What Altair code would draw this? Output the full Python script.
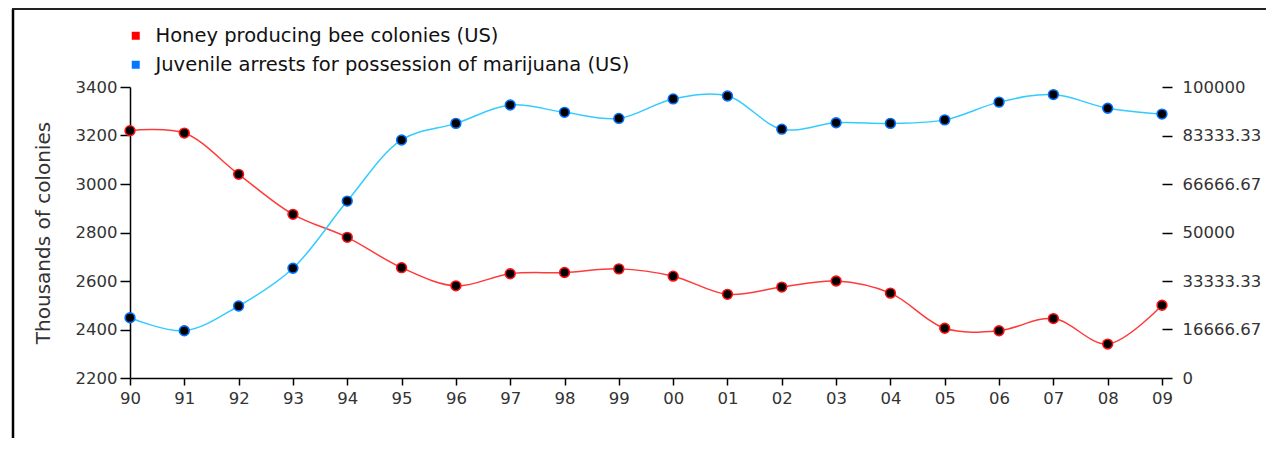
import altair as alt
import pandas as pd

years = ["90", "91", "92", "93", "94", "95", "96", "97", "98", "99",
         "00", "01", "02", "03", "04", "05", "06", "07", "08", "09"]
bee_colonies = [3220, 3210, 3040, 2875, 2780, 2655, 2580, 2630, 2635, 2650,
                2620, 2545, 2575, 2600, 2550, 2405, 2395, 2445, 2340, 2500]
juvenile_arrests = [20700, 16250, 24750, 37700, 60800, 81800, 87500, 93800, 91300, 89200,
                    95900, 96900, 85500, 87700, 87500, 88700, 94800, 97400, 92700, 90700]
series_names = ["Honey producing bee colonies (US)",
                "Juvenile arrests for possession of marijuana (US)"]
legend_colors = ["#ff0000", "#0078ff"]
line_colors = ["#ff3a3a", "#33ccff"]
ring_colors = ["#ff1010", "#0070ff"]
left_ticks = [2200, 2400, 2600, 2800, 3000, 3200, 3400]
right_ticks = [0, 16666.67, 33333.33, 50000, 66666.67, 83333.33, 100000]

W, H = 1032, 291
FONT = "DejaVu Sans"

bee_df = pd.DataFrame({"year": years, "value": bee_colonies})
juv_df = pd.DataFrame({"year": years, "value": juvenile_arrests})
legend_df = pd.DataFrame({"series": series_names})

x_enc = alt.X("year:O", sort=years, scale=alt.Scale(type="point", padding=0),
              axis=alt.Axis(title=None, labelAngle=0, tickSize=7, labelPadding=5,
                            domainColor="black", tickColor="black", domainWidth=1.5, tickWidth=1.5))

y_left = alt.Y("value:Q", scale=alt.Scale(domain=[2200, 3400], nice=False, zero=False),
               axis=alt.Axis(title="Thousands of colonies", orient="left", values=left_ticks,
                             format="d", tickSize=10, labelPadding=3, titlePadding=22,
                             domainColor="black", tickColor="black", domainWidth=1.5, tickWidth=1.5))
y_right = alt.Y("value:Q", scale=alt.Scale(domain=[0, 100000], nice=False),
                axis=alt.Axis(title=None, orient="right", values=right_ticks, domain=False,
                              tickSize=10, labelPadding=10, labelExpr="datum.value + ''",
                              tickColor="black", tickWidth=1.5))

bee_line = alt.Chart(bee_df).mark_line(interpolate="catmull-rom", color=line_colors[0],
                                       strokeWidth=1.5).encode(x=x_enc, y=y_left)
bee_pts = alt.Chart(bee_df).mark_point(filled=True, fill="black", stroke=ring_colors[0],
                                       opacity=1, size=95, strokeWidth=1.6).encode(
    x=x_enc, y=y_left)
juv_line = alt.Chart(juv_df).mark_line(interpolate="catmull-rom", color=line_colors[1],
                                       strokeWidth=1.5).encode(x=x_enc, y=y_right)
juv_pts = alt.Chart(juv_df).mark_point(filled=True, fill="black", stroke=ring_colors[1],
                                       opacity=1, size=95, strokeWidth=1.6).encode(
    x=x_enc, y=y_right)

legend_layer = alt.Chart(legend_df).mark_square(size=0, opacity=1).encode(
    x=alt.value(0), y=alt.value(0),
    color=alt.Color("series:N",
                    scale=alt.Scale(domain=series_names, range=legend_colors),
                    legend=alt.Legend(title=None, orient="none", legendX=-4, legendY=-61,
                                      symbolType="square", symbolSize=64, rowPadding=8,
                                      symbolStrokeWidth=0, symbolOpacity=1, labelLimit=0,
                                      labelFontSize=19.5, labelFont=FONT, labelColor="#111",
                                      labelOffset=10, padding=0)))

frame_df = pd.DataFrame({"k": [0]})
frame_left = alt.Chart(frame_df).mark_rule(color="black", strokeWidth=2.5).encode(
    x=alt.value(-117), y=alt.value(-78), y2=alt.value(H + 80))
frame_top = alt.Chart(frame_df).mark_rule(color="#222", strokeWidth=2).encode(
    x=alt.value(-118), x2=alt.value(W + 120), y=alt.value(-78))

left_layer = alt.layer(bee_line, bee_pts)
right_layer = alt.layer(juv_line, juv_pts)

chart = alt.layer(frame_left, frame_top, legend_layer, left_layer, right_layer).resolve_scale(
    y="independent"
).properties(
    width=W, height=H,
    padding={"left": 122, "top": 79, "right": 104, "bottom": 60},
    autosize=alt.AutoSizeParams(type="none"),
).configure_view(stroke=None).configure_axis(
    grid=False, labelFont=FONT, labelFontSize=16.5, labelColor="#333",
    titleFont=FONT, titleFontSize=20, titleFontWeight="normal", titleColor="#333",
)

chart.save("out.html", embed_options={"renderer": "svg", "actions": False})
